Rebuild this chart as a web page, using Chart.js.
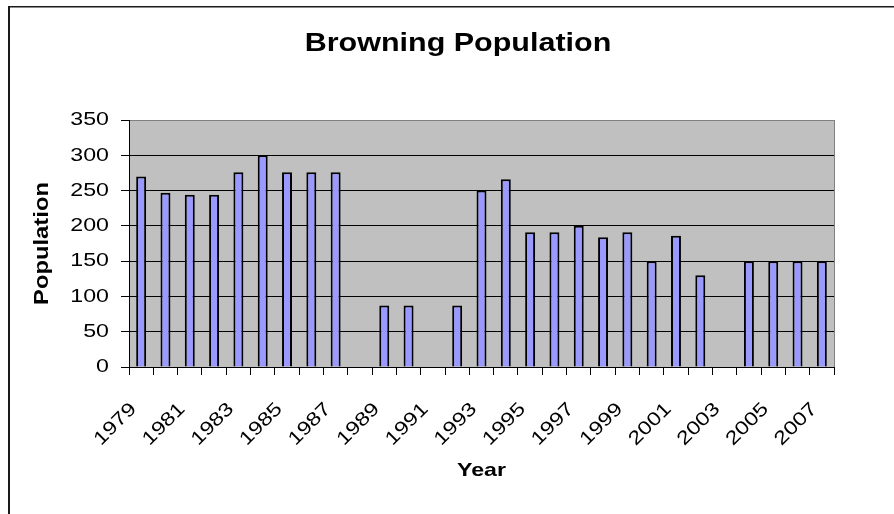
<!DOCTYPE html>
<html>
<head>
<meta charset="utf-8">
<title>Browning Population</title>
<script src="https://cdn.jsdelivr.net/npm/chart.js@4/dist/chart.umd.min.js"></script>
<style>
  html, body { margin: 0; padding: 0; background: #fff; }
  canvas { display: block; }
</style>
</head>
<body>
<canvas id="chart" width="894" height="514"></canvas>
<script>
// Census counts by year (null = no count that year)
const years = ['1979','1980','1981','1982','1983','1984','1985','1986','1987','1988',
               '1989','1990','1991','1992','1993','1994','1995','1996','1997','1998',
               '1999','2000','2001','2002','2003','2004','2005','2006','2007'];
const population = [270, 247, 244, 244, 276, 300, 276, 276, 276, null,
                    87, 87, null, 87, 250, 266, 191, 191, 200, 184,
                    191, 150, 186, 130, null, 150, 150, 150, 150];
const yTicks = [0, 50, 100, 150, 200, 250, 300, 350];

// Wide-set lettering: every label is drawn stretched along its reading direction.
const TEXT_STRETCH = 1.22;
const wideText = {
  id: 'wideText',
  beforeDraw(chart) {
    const ctx = chart.ctx;
    if (ctx.__plainFillText) return;
    const plain = ctx.fillText;
    ctx.__plainFillText = plain;
    ctx.fillText = function (text, x, y) {
      this.save();
      this.translate(x, y);
      this.scale(TEXT_STRETCH, 1);
      plain.call(this, text, 0, 0);
      this.restore();
    };
  }
};

// Page frame, grey plot area and its right-hand edge
const frame = {
  id: 'frame',
  beforeDraw(chart) {
    const {ctx, chartArea: a} = chart;
    ctx.save();
    ctx.fillStyle = '#ffffff';
    ctx.fillRect(0, 0, chart.width, chart.height);
    ctx.fillStyle = '#1a1a1a';
    ctx.fillRect(8, 6, 2, chart.height);
    ctx.fillRect(8, 6, chart.width, 1.5);
    ctx.fillStyle = '#c0c0c0';
    ctx.fillRect(a.left, a.top, a.right - a.left, a.bottom - a.top);
    ctx.restore();
  },
  afterDraw(chart) {
    const {ctx, chartArea: a} = chart;
    ctx.save();
    ctx.strokeStyle = '#808080';
    ctx.lineWidth = 1;
    ctx.beginPath();
    ctx.moveTo(Math.round(a.right) + 0.5, a.top);
    ctx.lineTo(Math.round(a.right) + 0.5, a.bottom);
    ctx.stroke();
    ctx.restore();
  }
};

Chart.defaults.font.family = '"Liberation Sans", Arial, sans-serif';
Chart.defaults.color = '#000';

new Chart(document.getElementById('chart'), {
  type: 'bar',
  data: {
    labels: years,
    datasets: [{
      label: 'Population',
      data: population,
      backgroundColor: '#9999ff',
      borderColor: '#000000',
      borderWidth: 2,
      borderSkipped: 'start',
      categoryPercentage: 1.0,
      barPercentage: 0.41
    }]
  },
  options: {
    responsive: false,
    animation: false,
    devicePixelRatio: 1,
    layout: { padding: { left: 22, right: 0, top: 0, bottom: 0 } },
    plugins: {
      legend: { display: false },
      tooltip: { enabled: false },
      title: {
        display: true,
        text: 'Browning Population',
        color: '#000',
        font: { size: 25, weight: 'bold' },
        padding: { top: 29, bottom: 61 }
      }
    },
    scales: {
      x: {
        offset: true,
        grid: {
          display: true,
          offset: true,
          drawOnChartArea: false,
          drawTicks: true,
          tickLength: 8,
          tickColor: '#000',
          color: '#000'
        },
        border: { display: true, color: '#000', width: 1 },
        ticks: {
          autoSkip: false,
          maxRotation: 45,
          minRotation: 45,
          padding: 23,
          labelOffset: -7.5,
          color: '#000',
          font: { size: 19 },
          callback(value, index) {
            return index % 2 === 0 ? years[index] : '';
          }
        },
        title: {
          display: true,
          text: 'Year',
          color: '#000',
          font: { size: 19, weight: 'bold' },
          padding: { top: 0, bottom: 32 }
        },
        afterFit(scale) { scale.height = 147; }
      },
      y: {
        min: yTicks[0],
        max: yTicks[yTicks.length - 1],
        grid: {
          display: true,
          drawTicks: true,
          tickLength: 8,
          tickColor: '#000',
          lineWidth: 1,
          color: (c) => (c.tick && c.tick.value === yTicks[yTicks.length - 1]) ? '#808080' : '#000'
        },
        border: { display: true, color: '#000', width: 1 },
        afterBuildTicks(scale) {
          scale.ticks = yTicks.map(v => ({ value: v }));
        },
        ticks: {
          padding: 12,
          color: '#000',
          font: { size: 19 }
        },
        title: {
          display: true,
          text: 'Population',
          color: '#000',
          font: { size: 19.5, weight: 'bold' },
          padding: { top: 8.6, bottom: 0 }
        },
        afterFit(scale) { scale.width = 107; }
      },
      gutter: {
        position: 'right',
        display: true,
        grid: { display: false },
        border: { display: false },
        ticks: { display: false },
        afterFit(scale) { scale.width = 60; }
      }
    }
  },
  plugins: [wideText, frame]
});
</script>
</body>
</html>
